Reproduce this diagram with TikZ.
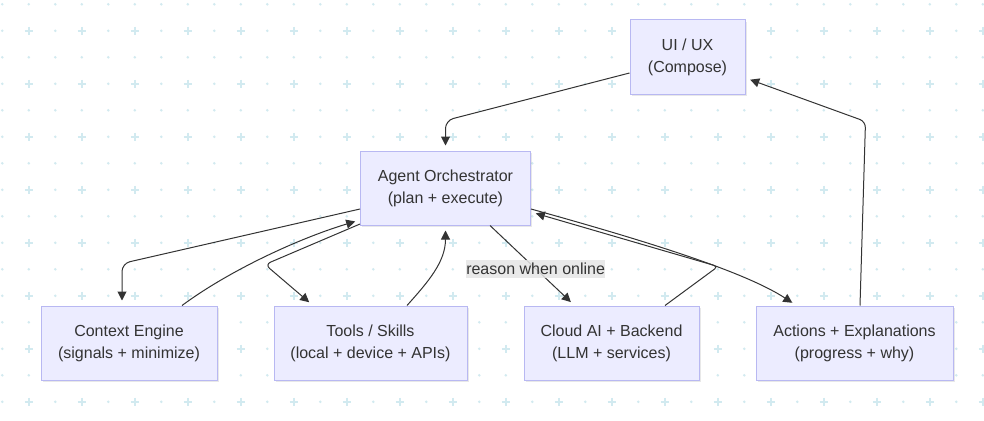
\documentclass[tikz,border=0pt]{standalone}
\usepackage{fontspec}
\setmainfont{Liberation Sans}
\usetikzlibrary{arrows.meta,calc,shadows}
\definecolor{NodeFill}{HTML}{ECECFF}
\definecolor{NodeEdge}{HTML}{B8B8F2}
\definecolor{InkGrey}{HTML}{333333}
\definecolor{GridTeal}{HTML}{D2EAF0}
\definecolor{LabelGrey}{HTML}{E6E6E6}

\begin{document}
\begin{tikzpicture}[x=1pt,y=-1pt,>={Triangle[length=9pt,width=9pt]},
    box/.style={draw=NodeEdge,fill=NodeFill,line width=1pt,minimum height=74pt,
      align=center,text=InkGrey,font=\fontsize{16}{22}\selectfont,
      drop shadow={shadow xshift=1.5pt,shadow yshift=-2pt,opacity=0.18}},
    flow/.style={->,InkGrey,line width=1pt,shorten >=5pt},
    edgelabel/.style={fill=LabelGrey,fill opacity=0.85,text opacity=1,text=InkGrey,
      inner xsep=0pt,inner ysep=3pt,font=\fontsize{16}{22}\selectfont}]
  \useasboundingbox (0,0) rectangle (984,420);
  \fill[white] (0,0) rectangle (984,420);
  % backdrop of dots and crosses
  \foreach \i in {0,...,37}{
    \foreach \j in {0,...,15}{
      \pgfmathsetmacro{\x}{2.3+26.5*\i}
      \pgfmathsetmacro{\y}{4.3+26.5*\j}
      \pgfmathtruncatemacro{\iscross}{mod(\i,2)*mod(\j,2)}
      \ifnum\iscross=1
        \draw[GridTeal,line width=1.6pt] (\x-4,\y) -- (\x+4,\y) (\x,\y-4) -- (\x,\y+4);
      \else
        \fill[GridTeal] (\x,\y) circle (1.4pt);
      \fi
    }
  }
  % boxes
  \node[box,minimum width=115pt] (ui) at (687.5,57) {UI / UX\\(Compose)};
  \node[box,minimum width=170pt] (orch) at (445.5,188) {Agent Orchestrator\\(plan + execute)};
  \node[box,minimum width=176pt] (ctx) at (129,343) {Context Engine\\(signals + minimize)};
  \node[box,minimum width=193pt] (tools) at (370.5,343) {Tools / Skills\\(local + device + APIs)};
  \node[box,minimum width=175pt] (cloud) at (611.5,343) {Cloud AI + Backend\\(LLM + services)};
  \node[box,minimum width=197pt] (act) at (854.5,343) {Actions + Explanations\\(progress + why)};
  % connectors
  \draw[flow,rounded corners=8pt] ([yshift=-16pt]ui.west) -- ($(orch.north)+(0,-30)$) -- (orch.north);
  \draw[flow,rounded corners=8pt] ([yshift=-21pt]orch.west) -- ($(ctx.north)+(-7,-42)$) -- ([xshift=-7pt]ctx.north);
  \draw[flow] ([xshift=53pt]ctx.north) .. controls (230,270) and (300,238) .. ([yshift=-32pt]orch.west);
  \draw[flow,rounded corners=6pt] ([yshift=-36pt]orch.west) -- ($(tools.north)+(-105.5,-41)$) -- ([xshift=-57.5pt]tools.north);
  \draw[flow] ([xshift=36.5pt]tools.north) .. controls (428,282) and (445.5,262) .. (orch.south);
  \draw[flow] ([xshift=44.5pt]orch.south) -- node[edgelabel,pos=0.54] {reason when online} ([xshift=-37pt]cloud.north);
  \draw[flow,rounded corners=4pt] ([xshift=53.5pt]cloud.north) -- ($(cloud.north)+(106.5,-39)$) -- ([yshift=-24pt]orch.east);
  \draw[flow] ([yshift=-21pt]orch.east) .. controls (650,242) and (745,272) .. ([xshift=-58pt]act.north);
  \draw[flow,rounded corners=6pt] ([xshift=5.5pt]act.north) -- ($(act.north)+(11,-184)$) -- ([yshift=-21pt]ui.east);
\end{tikzpicture}
\end{document}
